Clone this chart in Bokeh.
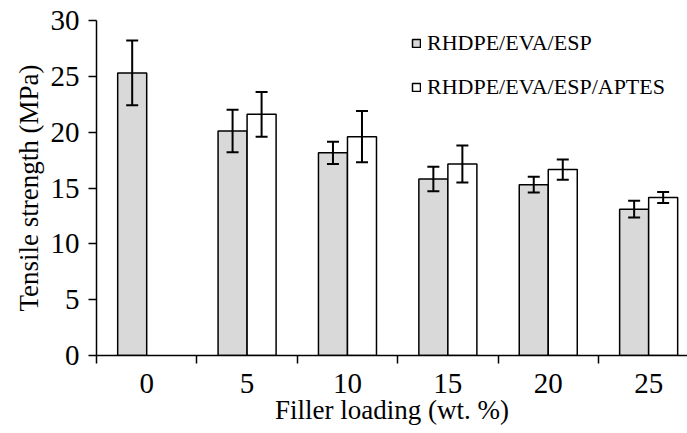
from bokeh.plotting import figure
from bokeh.models import Range1d, FixedTicker, Whisker, ColumnDataSource, Legend, LegendItem
from bokeh.embed import file_html
from bokeh.resources import INLINE
import math

categories = ["0", "5", "10", "15", "20", "25"]
esp = [25.3, 20.1, 18.15, 15.8, 15.3, 13.1]
esp_err = [2.9, 1.9, 1.0, 1.1, 0.7, 0.75]
aptes = [float("nan"), 21.6, 19.6, 17.15, 16.65, 14.15]
aptes_err = [float("nan"), 2.0, 2.3, 1.65, 0.9, 0.5]
y_ticks = [0, 5, 10, 15, 20, 25, 30]

FONT = "Liberation Serif"
bar_w = 0.289
centers = [i + 0.5 for i in range(len(categories))]

def make_src(vals, errs, shift):
    xs = [c + shift for c in centers]
    up = [v + e if not math.isnan(v) else float("nan") for v, e in zip(vals, errs)]
    lo = [v - e if not math.isnan(v) else float("nan") for v, e in zip(vals, errs)]
    return ColumnDataSource(dict(x=xs, top=vals, upper=up, lower=lo))

src1 = make_src(esp, esp_err, -bar_w / 2)
src2 = make_src(aptes, aptes_err, bar_w / 2)

p = figure(width=687, height=433, output_backend="svg", toolbar_location=None,
           x_range=Range1d(0, 5.887), y_range=Range1d(0, 30),
           min_border_left=96, min_border_right=0, min_border_top=20, min_border_bottom=78)
p.outline_line_color = None
p.background_fill_color = "white"

r1 = p.vbar(x="x", top="top", width=bar_w, source=src1, fill_color="#d9d9d9",
            line_color="black", line_width=1.5)
r2 = p.vbar(x="x", top="top", width=bar_w, source=src2, fill_color="white",
            line_color="black", line_width=1.5)

for s in (src1, src2):
    w = Whisker(base="x", upper="upper", lower="lower", source=s,
                line_color="black", line_width=2, level="overlay")
    for h in (w.upper_head, w.lower_head):
        h.size = 12
        h.line_width = 2
        h.line_color = "black"
    p.add_layout(w)

# axes
p.xaxis.ticker = FixedTicker(ticks=centers, minor_ticks=list(range(len(categories) + 1)))
p.xaxis.major_label_overrides = {c: categories[i] for i, c in enumerate(centers)}
p.xaxis.major_tick_out = 0
p.xaxis.major_tick_in = 0
p.xaxis.minor_tick_out = 8
p.xaxis.minor_tick_in = 0
p.xaxis.minor_tick_line_color = "black"
p.xaxis.minor_tick_line_width = 1.5
p.xaxis.axis_label = "Filler loading (wt. %)"

p.yaxis.ticker = FixedTicker(ticks=y_ticks)
p.yaxis.major_tick_out = 8
p.yaxis.major_tick_in = 0
p.yaxis.minor_tick_line_color = None
p.yaxis.axis_label = "Tensile strength (MPa)"

for ax in (p.xaxis, p.yaxis):
    ax.axis_line_color = "black"
    ax.axis_line_width = 1.5
    ax.major_tick_line_color = "black"
    ax.major_tick_line_width = 1.5
    ax.major_label_text_font = FONT
    ax.major_label_text_font_size = "29px"
    ax.major_label_text_color = "black"
    ax.axis_label_text_font = FONT
    ax.axis_label_text_font_size = "27px"
    ax.axis_label_text_font_style = "normal"
    ax.axis_label_text_color = "black"

p.xaxis.major_label_standoff = 10
p.xaxis.axis_label_standoff = -1
p.yaxis.major_label_standoff = 9
p.yaxis.axis_label_standoff = 4

p.xgrid.grid_line_color = None
p.ygrid.ticker = FixedTicker(ticks=[30])
p.ygrid.grid_line_color = "black"
p.ygrid.grid_line_width = 1.5

legend = Legend(items=[LegendItem(label="RHDPE/EVA/ESP", renderers=[r1]),
                       LegendItem(label="RHDPE/EVA/ESP/APTES", renderers=[r2])],
                location=(315, 255))
legend.glyph_width = 10
legend.glyph_height = 10
legend.label_height = 22
legend.label_standoff = 6
legend.spacing = 18
legend.padding = 0
legend.margin = 0
legend.border_line_color = None
legend.background_fill_alpha = 0
legend.label_text_font = FONT
legend.label_text_font_size = "22px"
legend.label_text_color = "black"
p.add_layout(legend, "center")

open("out.html", "w").write(file_html(p, INLINE))
